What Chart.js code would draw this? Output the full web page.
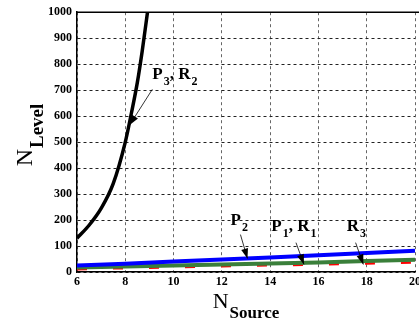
<!DOCTYPE html>
<html><head><meta charset="utf-8">
<script src="https://cdn.jsdelivr.net/npm/chart.js@4.4.0/dist/chart.umd.min.js"></script>
<style>
html,body{margin:0;padding:0;background:#fff;overflow:hidden;}
#wrap{width:424px;height:324px;position:relative;}
</style></head><body>
<div id="wrap"><canvas id="c"></canvas></div>
<script>
// ---- data ----
const xTicks = [6, 8, 10, 12, 14, 16, 18, 20];
const yTicks = [0, 100, 200, 300, 400, 500, 600, 700, 800, 900, 1000];
const blackX = [6, 6.5, 7, 7.5, 8, 8.25, 8.5, 8.7, 8.92];
const blackY = [130, 180, 245, 340, 500, 610, 730, 850, 1000];
const lineX  = [6, 8, 10, 12, 14, 16, 18, 20];
const blueY  = [25, 32, 40, 48, 56, 64, 73, 82];
const greenY = [17, 21, 25, 29, 33, 37, 42, 47];
const redY   = [11, 15, 18, 22, 26, 29, 33, 37];

// annotation labels: [main, sub] parts, text anchor, arrow from -> to (data coords)
const notes = [
  { parts: [["P", "3"], [", R", "2"]], at: [9.12, 741], from: [9.12, 703], to: [8.18, 566] },
  { parts: [["P", "2"]],              at: [12.36, 182], from: [12.77, 144], to: [13.06, 52] },
  { parts: [["P", "1"], [", R", "1"]], at: [14.05, 159], from: [15.07, 113], to: [15.40, 29] },
  { parts: [["R", "3"]],              at: [17.17, 159], from: [17.54, 113], to: [17.86, 29] }
];

const pts = (xs, ys) => xs.map((x, i) => ({ x: x, y: ys[i] }));
const SERIF = '"Liberation Serif", "Times New Roman", serif';

const extras = {
  id: 'extras',
  afterDraw(chart) {
    const { ctx, chartArea: a, scales: { x, y } } = chart;
    ctx.save();
    ctx.strokeStyle = '#000'; ctx.lineWidth = 1.5; ctx.setLineDash([]);
    ctx.beginPath(); ctx.moveTo(a.left, a.top); ctx.lineTo(a.right + 5, a.top); ctx.stroke();

    ctx.fillStyle = '#000';
    ctx.textBaseline = 'alphabetic';
    notes.forEach(n => {
      let px = x.getPixelForValue(n.at[0]);
      const py = y.getPixelForValue(n.at[1]);
      n.parts.forEach(([m, s]) => {
        ctx.font = 'bold 17px ' + SERIF;
        ctx.fillText(m, px, py);
        px += ctx.measureText(m).width + 1;
        ctx.font = 'bold 12px ' + SERIF;
        ctx.fillText(s, px, py + 6);
        px += ctx.measureText(s).width;
      });
      const x1 = x.getPixelForValue(n.from[0]), y1 = y.getPixelForValue(n.from[1]);
      const x2 = x.getPixelForValue(n.to[0]), y2 = y.getPixelForValue(n.to[1]);
      ctx.strokeStyle = '#000'; ctx.lineWidth = 0.8;
      ctx.beginPath(); ctx.moveTo(x1, y1); ctx.lineTo(x2, y2); ctx.stroke();
      const ang = Math.atan2(y2 - y1, x2 - x1), L = 10, W = 3.5;
      ctx.beginPath();
      ctx.moveTo(x2, y2);
      ctx.lineTo(x2 - L * Math.cos(ang) + W * Math.sin(ang), y2 - L * Math.sin(ang) - W * Math.cos(ang));
      ctx.lineTo(x2 - L * Math.cos(ang) - W * Math.sin(ang), y2 - L * Math.sin(ang) + W * Math.cos(ang));
      ctx.closePath(); ctx.fill();
    });

    ctx.font = '22px ' + SERIF;
    const wN = ctx.measureText('N').width;
    ctx.font = 'bold 17px ' + SERIF;
    const wS = ctx.measureText('Source').width;
    let sx = (a.left + a.right) / 2 - (wN + wS + 1) / 2;
    ctx.font = '22px ' + SERIF; ctx.fillText('N', sx, 308);
    ctx.font = 'bold 17px ' + SERIF; ctx.fillText('Source', sx + wN + 1, 318);

    ctx.save();
    ctx.translate(32, 135);
    ctx.rotate(-Math.PI / 2);
    ctx.font = '24px ' + SERIF;
    const wN2 = ctx.measureText('N').width;
    ctx.font = 'bold 19px ' + SERIF;
    const wL = ctx.measureText('Level').width;
    const st = -(wN2 + wL + 1) / 2;
    ctx.font = '24px ' + SERIF; ctx.fillText('N', st, 0);
    ctx.font = 'bold 19px ' + SERIF; ctx.fillText('Level', st + wN2 + 1, 11);
    ctx.restore();
    ctx.restore();
  }
};

new Chart(document.getElementById('c'), {
  type: 'line',
  data: {
    datasets: [
      { data: pts(blackX, blackY), borderColor: '#000', borderWidth: 3.5, cubicInterpolationMode: 'monotone' },
      { data: pts(lineX, blueY), borderColor: '#0000ff', borderWidth: 4 },
      { data: pts(lineX, greenY), borderColor: '#3a7f3a', borderWidth: 4 },
      { data: pts(lineX, redY), borderColor: '#ff0000', borderWidth: 2.5, borderDash: [10, 26] }
    ]
  },
  options: {
    responsive: true, maintainAspectRatio: false, animation: false,
    layout: { padding: { top: 9, left: 0, right: 0, bottom: 0 } },
    elements: { point: { radius: 0 }, line: { fill: false } },
    plugins: { legend: { display: false }, tooltip: { enabled: false } },
    scales: {
      x: {
        type: 'linear', min: 6, max: 20,
        afterBuildTicks: s => { s.ticks = xTicks.map(v => ({ value: v })); },
        afterFit: s => { s.height = 52; },
        ticks: { color: '#000', font: { family: SERIF, size: 12, weight: 'bold' }, padding: 3, maxRotation: 0, autoSkip: false,
                 callback: v => String(v) },
        grid: { color: '#666', lineWidth: 1, drawTicks: false },
        border: { display: true, color: '#000', width: 1.5, dash: [3, 3] }
      },
      y: {
        min: 0, max: 1000,
        afterBuildTicks: s => { s.ticks = yTicks.map(v => ({ value: v })); },
        afterFit: s => { s.width = 77; },
        ticks: { color: '#000', font: { family: SERIF, size: 12, weight: 'bold' }, padding: 5,
                 callback: v => String(v) },
        grid: { color: '#222', lineWidth: 1, drawTicks: false },
        border: { display: true, color: '#000', width: 1.5, dash: [3, 3] }
      }
    }
  },
  plugins: [extras]
});
</script>
</body></html>
